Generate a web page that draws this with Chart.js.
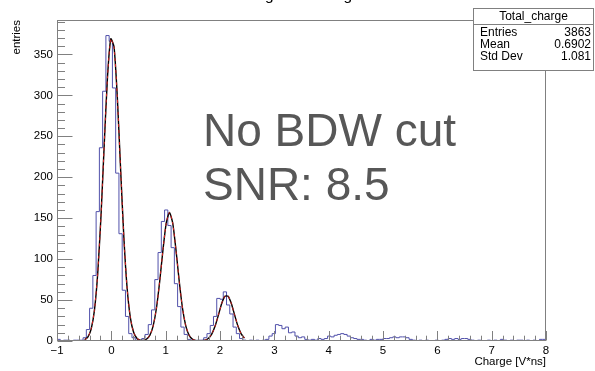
<!DOCTYPE html>
<html><head><meta charset="utf-8">
<script src="https://cdn.jsdelivr.net/npm/chart.js@4.4.0/dist/chart.umd.min.js"></script>
<style>html,body{margin:0;padding:0;background:#fff;}#wrap{width:595px;height:371px;position:relative;}</style>
</head><body><div id="wrap"><canvas id="c" width="595" height="371"></canvas></div>
<script>
// ---- data ----
const binLow = -1;
const binWidth = 0.06;
const counts = [
  0,2,0,1,1,0,1,1,1,4,
  14,40,80,158,236,305,373,366,309,205,
  131,62,30,9,4,1,0,3,8,20,
  38,75,108,146,160,141,114,70,42,17,
  8,2,1,0,1,1,4,9,19,30,
  52,51,60,44,33,17,9,3,1,0,
  1,0,1,0,1,2,6,9,20,19,
  15,17,10,11,6,4,5,2,1,2,
  1,3,2,3,6,5,7,8,9,8,
  6,4,3,2,2,1,0,2,1,2,
  2,3,3,4,5,4,5,5,4,2,
  1,0,1,0,1,0,0,1,0,1,
  2,3,2,3,2,3,3,2,1,0,
  1,0,0,1,0,1,0,2,1,0,
  1,0,1,1,0,1,0,1,0,2
];
const fitX = [
  -0.49,-0.43,-0.37,-0.31,-0.25,-0.19,-0.13,-0.07,-0.01,0.05,
  0.11,0.17,0.23,0.29,0.35,0.41,0.47,0.53,0.59,0.65,
  0.71,0.77,0.83,0.89,0.95,1.01,1.07,1.13,1.19,1.25,
  1.31,1.37,1.43,1.49,1.55,1.61,1.67,1.73,1.79,1.85,
  1.91,1.97,2.03,2.09,2.15,2.21,2.27,2.33,2.39,2.45
];
const fitY = [
  1.4,5,15,38,83,153,241,323,369,359,
  298,211,127,65,28.5,10.6,3.4,1.05,0.65,2.4,
  7.2,18.5,40,72.7,111,144,157,144,111,72.7,
  40,18.5,7.2,2.4,0.65,0.1,0.3,1.15,3.5,8.7,
  18.2,31.5,45.5,54.7,54.7,45.5,31.5,18.2,8.7,3.5
];
const xMin = -1, xMax = 8, yMin = 0, yMax = 392;
const xTickStep = 1, yTickStep = 50;
const titleText = 'Integrated charge';
const xTitle = 'Charge [V*ns]';
const yTitle = 'entries';
const statName = 'Total_charge';
const statLabels = ['Entries', 'Mean', 'Std Dev'];
const statValues = ['3863', '0.6902', '1.081'];
const noteLines = ['No BDW cut', 'SNR: 8.5'];

// ---- build datasets ----
const histPts = counts.map((v, i) => ({x: binLow + i * binWidth, y: v}));
histPts.push({x: binLow + counts.length * binWidth, y: counts[counts.length - 1]});
const fitPts = fitX.map((x, i) => ({x: x, y: fitY[i]}));

const FONT = "'Liberation Sans', Arial, Helvetica, sans-serif";
const AXC = '#808080';

const deco = {
  id: 'deco',
  afterDraw(chart) {
    const ctx = chart.ctx;
    const ca = chart.chartArea;
    const xs = chart.scales.x, ys = chart.scales.y;
    ctx.save();
    ctx.strokeStyle = AXC;
    ctx.lineWidth = 1;
    const L = Math.round(ca.left) + 0.5, R = Math.round(ca.right) - 0.5;
    const T = Math.round(ca.top) + 0.5, B = Math.round(ca.bottom) - 0.5;
    ctx.strokeRect(L, T, R - L, B - T);
    ctx.beginPath();
    for (let v = yMin; v <= yMax; v += yTickStep / 5) {
      const p = Math.round(ys.getPixelForValue(v)) + 0.5;
      const major = Math.abs(v % yTickStep) < 1e-9;
      ctx.moveTo(L, p); ctx.lineTo(L + (major ? 15 : 7.5), p);
    }
    for (let k = 0; k <= (xMax - xMin) * 5; k++) {
      const v = xMin + k * xTickStep / 5;
      const p = Math.round(xs.getPixelForValue(v)) + 0.5;
      const major = k % 5 === 0;
      ctx.moveTo(p, B); ctx.lineTo(p, B - (major ? 9.5 : 4.8));
    }
    ctx.stroke();

    ctx.fillStyle = '#000';
    ctx.font = '11.5px ' + FONT;
    ctx.textAlign = 'right';
    ctx.textBaseline = 'alphabetic';
    ctx.fillText(xTitle, ca.right, 365);
    ctx.save();
    ctx.translate(20, ca.top);
    ctx.rotate(-Math.PI / 2);
    ctx.textAlign = 'right';
    ctx.fillText(yTitle, 0, 0);
    ctx.restore();

    ctx.font = '15.5px ' + FONT;
    ctx.textAlign = 'center';
    ctx.fillText(titleText, 300, 0);

    ctx.fillStyle = '#575757';
    ctx.font = '46px ' + FONT;
    ctx.textAlign = 'left';
    ctx.fillText(noteLines[0], 203, 146);
    ctx.fillText(noteLines[1], 203, 200);

    const bx0 = 473.5, bx1 = 593.5, by0 = 8.5, bsep = 24.5, by1 = 70.5;
    ctx.fillStyle = '#fff';
    ctx.fillRect(bx0, by0, bx1 - bx0, by1 - by0);
    ctx.strokeStyle = AXC;
    ctx.strokeRect(bx0, by0, bx1 - bx0, by1 - by0);
    ctx.beginPath(); ctx.moveTo(bx0, bsep); ctx.lineTo(bx1, bsep); ctx.stroke();
    ctx.fillStyle = '#000';
    ctx.font = '12px ' + FONT;
    ctx.textBaseline = 'middle';
    ctx.textAlign = 'center';
    ctx.fillText(statName, (bx0 + bx1) / 2, 16.5);
    const rows = [32.5, 44.5, 57];
    statLabels.forEach((lab, i) => {
      ctx.textAlign = 'left';
      ctx.fillText(lab, 480, rows[i]);
      ctx.textAlign = 'right';
      ctx.fillText(statValues[i], 591, rows[i]);
    });
    ctx.restore();
  }
};

new Chart(document.getElementById('c'), {
  type: 'line',
  data: {
    datasets: [
      {data: fitPts, borderColor: '#d62020', borderWidth: 1, borderDash: [3, 3], pointRadius: 0, tension: 0.2, order: 1},
      {data: fitPts, borderColor: '#000000', borderWidth: 1.4, pointRadius: 0, tension: 0.2, order: 2},
      {data: histPts, borderColor: '#5050aa', borderWidth: 1, pointRadius: 0, stepped: 'after', order: 3}
    ]
  },
  options: {
    responsive: false, animation: false, devicePixelRatio: 1,
    layout: {padding: {left: 0, right: 49, top: 20, bottom: 0}},
    plugins: {legend: {display: false}, tooltip: {enabled: false}, title: {display: false}},
    scales: {
      x: {
        type: 'linear', min: xMin, max: xMax,
        grid: {display: false, drawTicks: false}, border: {display: false},
        ticks: {stepSize: xTickStep, autoSkip: false, maxRotation: 0, padding: 3, color: '#000',
          font: {family: FONT, size: 11.5},
          callback: v => String(v).replace('-', '\u2212')},
        afterFit: s => { s.height = 30; }
      },
      y: {
        type: 'linear', min: yMin, max: yMax,
        grid: {display: false, drawTicks: false}, border: {display: false},
        ticks: {stepSize: yTickStep, padding: 4, color: '#000', font: {family: FONT, size: 11.5}},
        afterBuildTicks: s => { s.ticks = s.ticks.filter(t => t.value % yTickStep === 0); },
        afterFit: s => { s.width = 57; }
      }
    }
  },
  plugins: [deco]
});
</script></body></html>
